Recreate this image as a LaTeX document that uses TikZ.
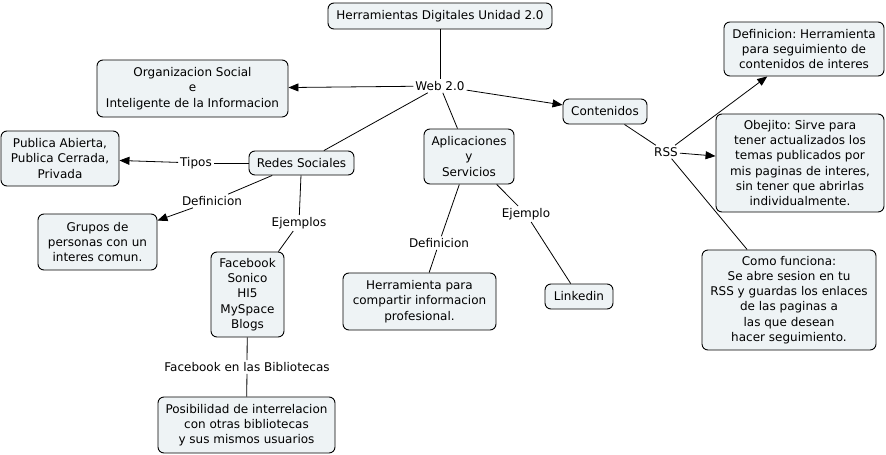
\documentclass[tikz,border=0pt]{standalone}
\usepackage{fontspec}
\setmainfont{DejaVu Sans}
\usetikzlibrary{arrows.meta}
\frenchspacing
\definecolor{boxfill}{HTML}{EEF3F5}
\tikzset{
  concept/.style={draw=black, fill=boxfill, rounded corners=6pt, line width=0.9pt, align=center, inner sep=1pt, font=\fontsize{12}{15.3}\selectfont\frenchspacing},
  phrase/.style={inner sep=2pt, font=\fontsize{12}{15.3}\selectfont},
  link/.style={draw=black, line width=0.8pt},
  arrowlink/.style={link, -{Triangle[length=10pt,width=8pt]}}
}
\begin{document}
\begin{tikzpicture}[x=1pt,y=-1pt]
\useasboundingbox (0,0) rectangle (886,455);
% concepts
\node[concept, minimum width=224, minimum height=26] (title) at (440,16) {Herramientas Digitales Unidad 2.0};
\node[concept, minimum width=191, minimum height=57] (org) at (192.5,88.5) {Organizacion Social\\e\\Inteligente de la Informacion};
\node[concept, minimum width=84, minimum height=25] (cont) at (605,111.5) {Contenidos};
\node[concept, minimum width=160, minimum height=54] (defh) at (804,49) {Definicion: Herramienta\\para seguimiento de\\contenidos de interes};
\node[concept, minimum width=168, minimum height=98] (obej) at (800,163) {Obejito: Sirve para\\tener actualizados los\\temas publicados por\\mis paginas de interes,\\sin tener que abrirlas\\individualmente.};
\node[concept, minimum width=174, minimum height=100] (como) at (789,300) {Como funciona:\\Se abre sesion en tu\\RSS y guardas los enlaces\\de las paginas a\\las que desean\\hacer seguimiento.};
\node[concept, minimum width=90, minimum height=55] (apl) at (469,156.5) {Aplicaciones\\y\\Servicios};
\node[concept, minimum width=105, minimum height=24] (redes) at (301.5,163) {Redes Sociales};
\node[concept, minimum width=118, minimum height=55] (pub) at (60,158.5) {Publica Abierta,\\Publica Cerrada,\\Privada};
\node[concept, minimum width=119, minimum height=56] (grupos) at (97.5,242) {Grupos de\\personas con un\\interes comun.};
\node[concept, minimum width=73, minimum height=85] (face) at (247.5,294.5) {Facebook\\Sonico\\HI5\\MySpace\\Blogs};
\node[concept, minimum width=177, minimum height=56] (posib) at (246.5,425) {Posibilidad de interrelacion\\con otras bibliotecas\\y sus mismos usuarios};
\node[concept, minimum width=153, minimum height=57] (herr) at (419.5,301.5) {Herramienta para\\compartir informacion\\profesional.};
\node[concept, minimum width=68, minimum height=25] (link) at (579,296.5) {Linkedin};
% linking phrases
\node[phrase] (web) at (440,86) {Web 2.0};
\node[phrase] (rss) at (666,152) {RSS};
\node[phrase] (tipos) at (196,163) {Tipos};
\node[phrase] (defl) at (212,201) {Definicion};
\node[phrase] (ejs) at (299,223) {Ejemplos};
\node[phrase] (fbib) at (247,367) {Facebook en las Bibliotecas};
\node[phrase] (defm) at (439,243) {Definicion};
\node[phrase] (ej) at (526,214) {Ejemplo};
% connectors
\draw[link] (title) -- (web);
\draw[arrowlink] (web) -- (org);
\draw[arrowlink] (web) -- (cont);
\draw[link] (web) -- (redes);
\draw[link] (web) -- (apl);
\draw[link] (cont) -- (rss);
\draw[arrowlink] (rss) -- (defh);
\draw[arrowlink] (rss) -- (obej);
\draw[link] (rss) -- (como);
\draw[link] (redes) -- (tipos);
\draw[arrowlink] (tipos) -- (pub);
\draw[link] (redes) -- (defl);
\draw[arrowlink] (defl) -- (grupos);
\draw[link] (redes) -- (ejs);
\draw[link] (ejs) -- (face);
\draw[link] (face) -- (fbib);
\draw[link] (fbib) -- (posib);
\draw[link] (apl) -- (defm);
\draw[link] (defm) -- (herr);
\draw[link] (apl) -- (ej);
\draw[link] (ej) -- (link);
\end{tikzpicture}
\end{document}
